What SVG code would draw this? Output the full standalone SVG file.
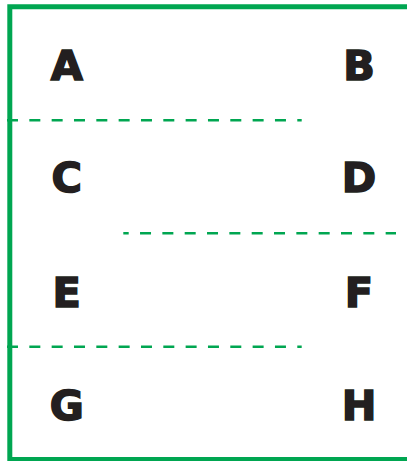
<svg xmlns="http://www.w3.org/2000/svg" width="407" height="461" viewBox="0 0 407 461">
<style>
.frame{fill:none;stroke:#00a651;stroke-width:5}
.dash{stroke:#00a651;stroke-width:2.5;stroke-dasharray:11 11.33;fill:none}
.lbl{font-family:"DejaVu Sans",sans-serif;font-weight:bold;font-size:41.5px;fill:#231f20;stroke:#231f20;stroke-width:1.6;stroke-linejoin:miter;text-anchor:middle}
</style>
<rect width="407" height="461" fill="#fff"/>
<g id="connectors">
<path class="frame" d="M410,6.8 H9.8 V459.6 H410"/>
<line class="dash" x1="7" y1="120.3" x2="301.7" y2="120.3"/>
<line class="dash" x1="123.3" y1="233.3" x2="396" y2="233.3" style="stroke-dashoffset:5.6"/>
<line class="dash" x1="7" y1="346.7" x2="301.7" y2="346.7"/>
</g>
<g id="A"><text class="lbl" x="66.8" y="79.5">A</text></g>
<g id="B"><text class="lbl" x="359" y="79.5">B</text></g>
<g id="C"><text class="lbl" x="66.8" y="191.5">C</text></g>
<g id="D"><text class="lbl" x="359" y="191.5">D</text></g>
<g id="E"><text class="lbl" x="66.8" y="306.8">E</text></g>
<g id="F"><text class="lbl" x="359" y="306.8">F</text></g>
<g id="G"><text class="lbl" x="66.8" y="419.5">G</text></g>
<g id="H"><text class="lbl" x="359" y="419.5">H</text></g>
</svg>
